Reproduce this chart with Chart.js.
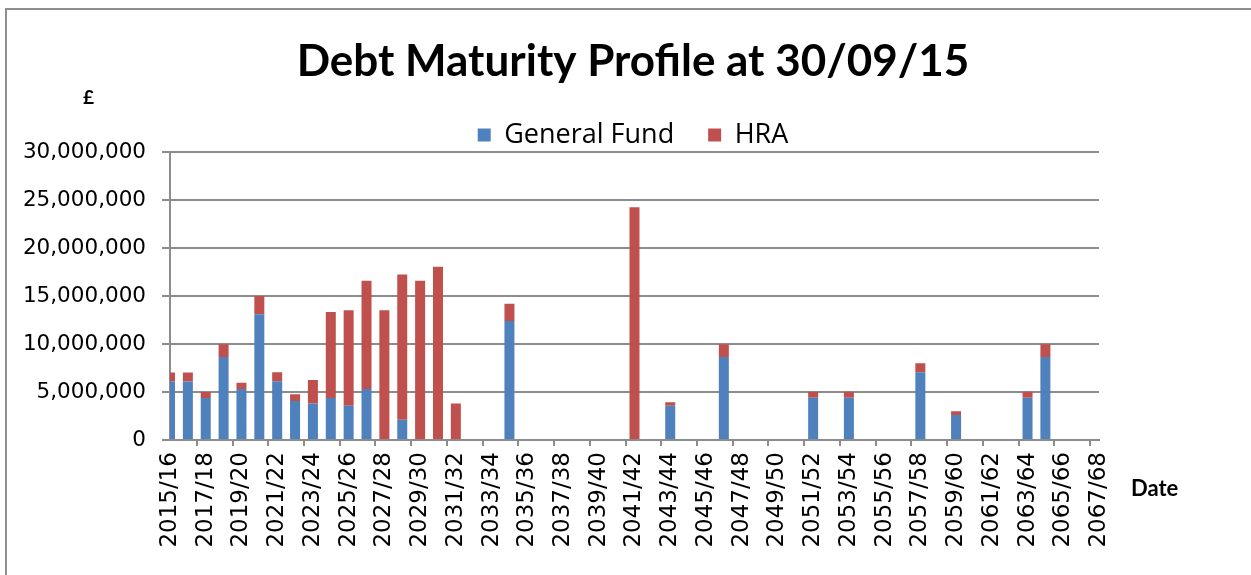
<!DOCTYPE html>
<html>
<head>
<meta charset="utf-8">
<script src="https://cdn.jsdelivr.net/npm/chart.js@4.4.1/dist/chart.umd.min.js"></script>
<style>
  html,body{margin:0;padding:0;background:#fff;overflow:hidden;}
  #frame{position:absolute;left:5px;top:8px;width:1300px;height:700px;border:2px solid #8e8e8e;box-sizing:border-box;}
  #chart{position:absolute;left:0;top:0;}
</style>
</head>
<body>
<div id="frame"></div>
<canvas id="chart" width="1251" height="575"></canvas>
<script>
// Categories: financial years 2015/16 .. 2067/68
const years = [];
for (let y = 2015; y <= 2067; y++) years.push(y + "/" + String((y + 1) % 100).padStart(2, "0"));

// Values (£)
const generalFund = [
  6100000, 6100000, 4370000, 8670000, 5310000, 13110000, 6120000, 4060000, 3810000, 4370000,
  3570000, 5310000, 0, 2100000, 0, 0, 0, 0, 0, 12410000,
  0, 0, 0, 0, 0, 0, 0, 0, 3570000, 0,
  0, 8670000, 0, 0, 0, 0, 4400000, 0, 4400000, 0,
  0, 0, 7060000, 0, 2620000, 0, 0, 0, 4400000, 8670000,
  0, 0, 0
];
const hra = [
  950000, 950000, 630000, 1330000, 670000, 1920000, 940000, 700000, 2450000, 8990000,
  9960000, 11300000, 13530000, 15170000, 16600000, 18080000, 3810000, 0, 0, 1790000,
  0, 0, 0, 0, 0, 0, 24270000, 0, 380000, 0,
  0, 1330000, 0, 0, 0, 0, 630000, 0, 630000, 0,
  0, 0, 940000, 0, 380000, 0, 0, 0, 630000, 1330000,
  0, 0, 0
];
const yTicks = [0, 5000000, 10000000, 15000000, 20000000, 25000000, 30000000];

const gridGrey = "#8c8c8c";

// extra labels: the £ sign and the "Date" axis title
const extraText = {
  id: "extraText",
  afterDraw(chart){
    const c = chart.ctx;
    c.save();
    c.fillStyle = "#000";
    c.textBaseline = "middle";
    c.font = "bold 19px Lato";
    c.fillText("£", 83, 98);
    c.font = "bold 22px Lato";
    c.fillText("Date", 1131, 489);
    c.restore();
  }
};

new Chart(document.getElementById("chart"), {
  type: "bar",
  data: {
    labels: years,
    datasets: [
      {label: "General Fund", data: generalFund, backgroundColor: "#4F81BD", clip: 0},
      {label: "HRA", data: hra, backgroundColor: "#C0504D", clip: 0}
    ]
  },
  options: {
    responsive: false,
    animation: false,
    devicePixelRatio: 1,
    layout: {padding: {left: 15, right: 0, top: 0, bottom: 0}},
    datasets: {bar: {categoryPercentage: 1, barPercentage: 0.56}},
    plugins: {
      title: {
        display: true,
        text: "Debt Maturity Profile at 30/09/15",
        color: "#000",
        font: {family: "Lato", size: 44, weight: "bold", lineHeight: 1.1},
        padding: {top: 38, bottom: 1}
      },
      legend: {
        position: "top",
        maxHeight: 65,
        labels: {
          color: "#000",
          font: {family: "Open Sans", size: 27},
          boxWidth: 13, boxHeight: 13,
          padding: 34
        }
      },
      tooltip: {enabled: false}
    },
    scales: {
      x: {
        stacked: true,
        offset: false,
        grid: {
          drawOnChartArea: false,
          tickLength: 6,
          color: (ctx) => ctx.index % 2 === 0 ? gridGrey : "rgba(0,0,0,0)",
          lineWidth: 2
        },
        border: {color: gridGrey, width: 2},
        ticks: {
          autoSkip: false,
          maxRotation: 90, minRotation: 90,
          padding: 6,
          color: "#000",
          font: {family: "DejaVu Sans", size: 23},
          callback: function(v, i){ return i % 2 === 0 ? years[i] : ""; }
        },
        afterFit: (s) => { s.height = 575 - 440; }
      },
      y: {
        stacked: true,
        min: 0, max: 30000000,
        afterBuildTicks: (s) => { s.ticks = yTicks.map(v => ({value: v})); },
        grid: {color: gridGrey, lineWidth: 2, tickLength: 8},
        border: {color: gridGrey, width: 2},
        ticks: {
          padding: 16,
          color: "#000",
          font: {family: "DejaVu Sans", size: 21.5},
          callback: (v) => Number(v).toLocaleString("en-GB")
        },
        afterFit: (s) => { s.width = 170 - 15; }
      },
      yRight: {
        position: "right",
        display: true,
        grid: {display: false},
        border: {display: false},
        ticks: {display: false},
        afterFit: (s) => { s.width = 1251 - 1099; }
      }
    }
  },
  plugins: [extraText]
});
</script>
</body>
</html>
